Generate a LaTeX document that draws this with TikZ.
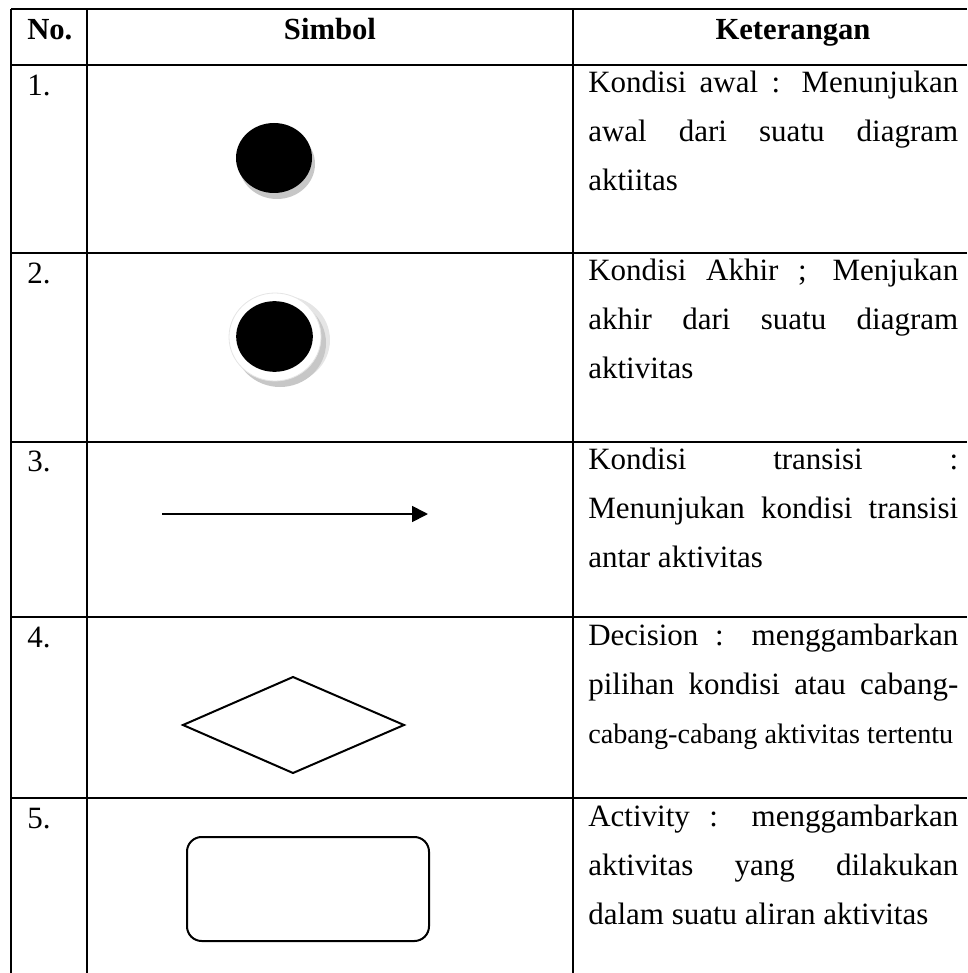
\documentclass[tikz,border=0pt]{standalone}
\usepackage{fontspec}
\setmainfont{Liberation Serif}
\usetikzlibrary{arrows.meta,shapes.geometric}
\newlength\dw
\setlength\dw{277.5pt}
\newcommand\jline[1]{\makebox[\dw][s]{#1}}
\newcommand\tightline[1]{\scalebox{0.91}{#1}}
\newcommand\bodysize{\fontsize{23.25pt}{36.75pt}\selectfont}
\begin{document}
\begin{tikzpicture}[x=0.75pt,y=-0.75pt,
  grid/.style={line width=1.5pt},
  hdr/.style={font=\fontsize{23pt}{28pt}\selectfont\bfseries, anchor=base, inner sep=0},
  num/.style={font=\bodysize, anchor=base west, inner sep=0},
  desc/.style={font=\bodysize, anchor=base west, inner sep=0},
  sym/.style={line width=1.5pt}]
\useasboundingbox (0,0) rectangle (967,973);

% table rules
\draw[grid] (11,9) -- (967,9);
\foreach \y in {65,253,442,617,798} \draw[grid] (11,\y) -- (967,\y);
\foreach \x in {11,87,573} \draw[grid] (\x,9) -- (\x,973);

% header
\node[hdr, anchor=base west] (hno) at (27,40) {No.};
\node[hdr] (hsym) at (330,40) {Simbol};
\node[hdr] (hket) at (793,40) {Keterangan};

% row numbers
\node[num] (n1) at (27,96) {1.};
\node[num] (n2) at (27,284) {2.};
\node[num] (n3) at (27,471) {3.};
\node[num] (n4) at (27,647) {4.};
\node[num] (n5) at (27,828) {5.};

% descriptions
\node[desc] (d1) at (588,93) {\parbox[t]{\dw}{\bodysize
  \jline{Kondisi awal : Menunjukan}\\ \jline{awal dari suatu diagram}\\ aktiitas}};
\node[desc] (d2) at (588,281) {\parbox[t]{\dw}{\bodysize
  \jline{Kondisi Akhir ; Menjukan}\\ \jline{akhir dari suatu diagram}\\ aktivitas}};
\node[desc] (d3) at (588,469) {\parbox[t]{\dw}{\bodysize
  \jline{Kondisi transisi :}\\ \jline{Menunjukan kondisi transisi}\\ antar aktivitas}};
\node[desc] (d4) at (588,645) {\parbox[t]{\dw}{\bodysize
  \jline{Decision : menggambarkan}\\ \jline{pilihan kondisi atau cabang-}\\
  \tightline{cabang-cabang aktivitas tertentu}}};
\node[desc] (d5) at (588,826) {\parbox[t]{\dw}{\bodysize
  \jline{Activity : menggambarkan}\\ \jline{aktivitas yang dilakukan}\\ dalam suatu aliran aktivitas}};

% 1: initial state, with its drop shadow
\fill[black!22] (277,164) ellipse[x radius=38, y radius=35];
\node[ellipse, fill=black, minimum width=57pt, minimum height=52.5pt, inner sep=0] (init) at (274,158) {};

% 2: final state, white rim and double shadow
\fill[black!10] (284,340) ellipse[x radius=46, y radius=44];
\fill[black!22] (280,343) ellipse[x radius=46, y radius=44];
\node[ellipse, fill=white, draw=black!10, line width=0.6pt, minimum width=69pt, minimum height=66pt, inner sep=0] (finring) at (275,337) {};
\node[ellipse, fill=black, minimum width=57.5pt, minimum height=53pt, inner sep=0] (fin) at (274.5,336.5) {};

% 3: transition
\coordinate (ta) at (162,514);
\coordinate (tb) at (428,514);
\draw[line width=1.3pt, -{Triangle[length=12pt,width=12pt]}] (ta) -- (tb);

% 4: decision
\draw[sym, line join=miter] (183,725) -- (293,677) -- (404,725) -- (293,773) -- cycle;

% 5: activity
\draw[sym, rounded corners=11pt] (187,837) rectangle (429,941);
\end{tikzpicture}
\end{document}
